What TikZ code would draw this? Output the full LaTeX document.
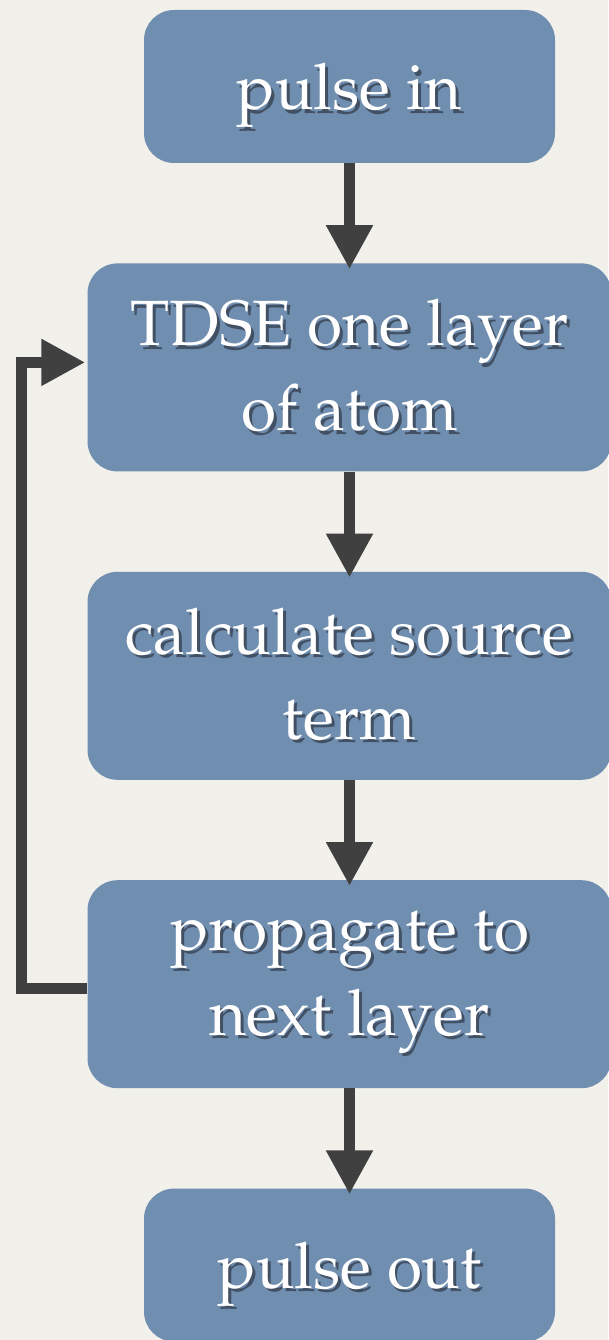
\documentclass[tikz,border=0pt]{standalone}
\usepackage[T1]{fontenc}
\usepackage{mathpazo}
\usepackage{xcolor}
\usetikzlibrary{positioning,arrows.meta}
\definecolor{paper}{RGB}{241,240,235}
\definecolor{boxblue}{RGB}{112,142,176}
\definecolor{arrowgray}{RGB}{64,64,64}
\definecolor{txtshadow}{RGB}{66,80,100}
\newcommand{\shtxt}[1]{\leavevmode\rlap{\hspace{3pt}\raisebox{-3.5pt}{\color{txtshadow}#1}}#1}

\begin{document}
\begin{tikzpicture}[
    x=1pt, y=1pt,
    node distance=100pt,
    every node/.style={font=\fontsize{64}{85}\selectfont},
    box/.style={fill=boxblue, rounded corners=30pt, align=center, text=white, inner sep=0pt},
    smallbox/.style={box, minimum width=411pt, minimum height=153pt, text depth=0pt},
    bigbox/.style={box, minimum width=524pt, minimum height=208pt},
    arr/.style={-{Triangle[length=44pt,width=44pt]}, line width=11pt, draw=arrowgray, shorten >=-6pt}
]
\fill[paper] (0,0) rectangle (608,-1340);
\useasboundingbox (0,0) rectangle (608,-1340);
\node[smallbox] (b1) at (349.5,-86.5) {\shtxt{pulse in}};
\node[bigbox, below=of b1] (b2) {\shtxt{TDSE one layer}\\\shtxt{of atom}};
\node[bigbox, below=of b2] (b3) {\shtxt{calculate source}\\\shtxt{term}};
\node[bigbox, below=of b3] (b4) {\shtxt{propagate to}\\\shtxt{next layer}};
\node[smallbox, below=of b4] (b5) {\shtxt{pulse out}};
\draw[arr] (b1) -- (b2);
\draw[arr] (b2) -- (b3);
\draw[arr] (b3) -- (b4);
\draw[arr] (b4) -- (b5);
\draw[arr, shorten >=2pt] ([yshift=-4pt]b4.west) -- ++(-65.5,0) |- ([yshift=5pt]b2.west);
\end{tikzpicture}
\end{document}
